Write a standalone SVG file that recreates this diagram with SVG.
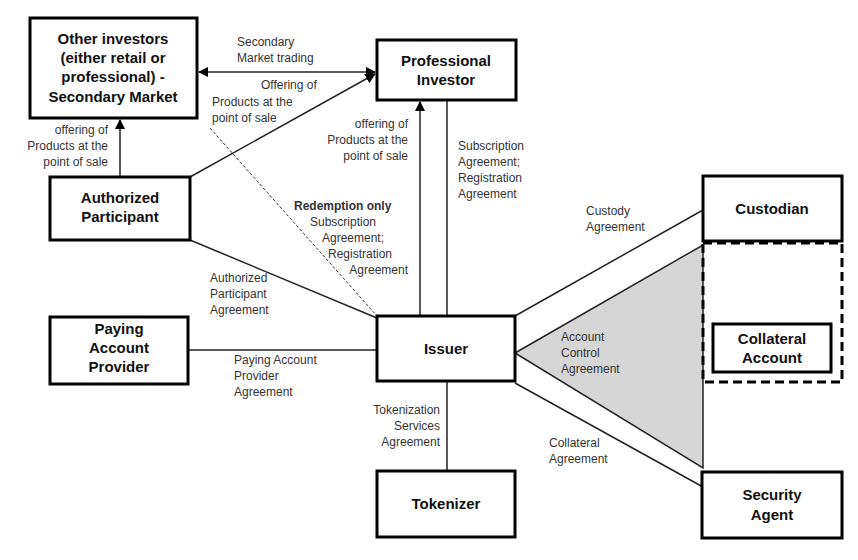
<svg xmlns="http://www.w3.org/2000/svg" width="858" height="560" viewBox="0 0 858 560">
<style>
.n{fill:#fff;stroke:#000;stroke-width:3}
.t{font-family:"Liberation Sans",Arial,sans-serif;font-weight:bold;font-size:15px;text-anchor:middle;fill:#111}
.l{font-family:"Liberation Sans",Arial,sans-serif;font-size:12px;fill:#333}
.c{stroke:#222;stroke-width:1.5;fill:none}
</style>
<defs><marker id="a" viewBox="0 0 10 10" refX="9" refY="5" markerWidth="7" markerHeight="7" orient="auto-start-reverse"><path d="M0,0L10,5L0,10z" fill="#000"/></marker></defs>
<rect width="858" height="560" fill="#fff"/>
<g id="connectors">
<polygon points="515,353 703,245 703,468" fill="#d6d6d6" stroke="#222" stroke-width="1.5"/>
<line class="c" x1="515" y1="316" x2="703" y2="210"/>
<line class="c" x1="515" y1="383" x2="703" y2="487"/>
<line class="c" x1="199" y1="72" x2="375" y2="72" marker-start="url(#a)" marker-end="url(#a)"/>
<line class="c" x1="190" y1="177" x2="375" y2="74" marker-end="url(#a)"/>
<line class="c" x1="420" y1="316" x2="420" y2="102" marker-end="url(#a)"/>
<line class="c" x1="447" y1="100" x2="447" y2="316"/>
<line x1="210" y1="128" x2="377" y2="316" stroke="#333" stroke-width="1" stroke-dasharray="3,2"/>
<line class="c" x1="190" y1="240" x2="377" y2="318"/>
<line class="c" x1="188" y1="350" x2="377" y2="350"/>
<line class="c" x1="447" y1="381" x2="447" y2="471"/>
<line class="c" x1="120" y1="177" x2="120" y2="120" marker-end="url(#a)"/>
</g>
<g id="other"><rect class="n" x="30" y="18" width="167" height="100"/><text class="t" x="113" y="44">Other investors</text><text class="t" x="113" y="63">(either retail or</text><text class="t" x="113" y="82">professional) -</text><text class="t" x="113" y="102">Secondary Market</text></g>
<g id="pi"><rect class="n" x="377" y="40" width="139" height="60"/><text class="t" x="446" y="66">Professional</text><text class="t" x="446" y="85">Investor</text></g>
<g id="ap"><rect class="n" x="50" y="177" width="140" height="63"/><text class="t" x="120" y="203">Authorized</text><text class="t" x="120" y="222">Participant</text></g>
<g id="pap"><rect class="n" x="50" y="317" width="138" height="67"/><text class="t" x="119" y="334">Paying</text><text class="t" x="119" y="353">Account</text><text class="t" x="119" y="372">Provider</text></g>
<g id="issuer"><rect class="n" x="377" y="316" width="138" height="65"/><text class="t" x="446" y="354">Issuer</text></g>
<g id="tok"><rect class="n" x="377" y="471" width="138" height="66"/><text class="t" x="446" y="509">Tokenizer</text></g>
<g id="cust"><rect class="n" x="703" y="176" width="139" height="65"/><text class="t" x="772" y="214">Custodian</text></g>
<g id="dash"><rect x="703" y="243" width="139" height="139" fill="none" stroke="#000" stroke-width="3" stroke-dasharray="9,5"/></g>
<g id="coll"><rect class="n" x="713" y="324" width="118" height="48"/><text class="t" x="772" y="344">Collateral</text><text class="t" x="772" y="363">Account</text></g>
<g id="sa"><rect class="n" x="702" y="472" width="140" height="66"/><text class="t" x="772" y="500">Security</text><text class="t" x="772" y="520">Agent</text></g>
<g id="labels">
<text class="l" x="237" y="46">Secondary</text><text class="l" x="237" y="62">Market trading</text>
<text class="l" x="261" y="89">Offering of</text><text class="l" x="212" y="106">Products at the</text><text class="l" x="212" y="122">point of sale</text>
<text class="l" x="108" y="134" text-anchor="end">offering of</text><text class="l" x="108" y="150" text-anchor="end">Products at the</text><text class="l" x="108" y="166" text-anchor="end">point of sale</text>
<text class="l" x="408" y="128" text-anchor="end">offering of</text><text class="l" x="408" y="144" text-anchor="end">Products at the</text><text class="l" x="408" y="160" text-anchor="end">point of sale</text>
<text class="l" x="458" y="150">Subscription</text><text class="l" x="458" y="166">Agreement;</text><text class="l" x="458" y="182">Registration</text><text class="l" x="458" y="198">Agreement</text>
<text class="l" x="294" y="210" font-weight="bold">Redemption only</text>
<text class="l" x="310" y="226">Subscription</text><text class="l" x="322" y="242">Agreement;</text><text class="l" x="328" y="258">Registration</text><text class="l" x="408" y="274" text-anchor="end">Agreement</text>
<text class="l" x="210" y="282">Authorized</text><text class="l" x="210" y="298">Participant</text><text class="l" x="210" y="314">Agreement</text>
<text class="l" x="234" y="364">Paying Account</text><text class="l" x="234" y="380">Provider</text><text class="l" x="234" y="396">Agreement</text>
<text class="l" x="586" y="215">Custody</text><text class="l" x="586" y="231">Agreement</text>
<text class="l" x="561" y="341">Account</text><text class="l" x="561" y="357">Control</text><text class="l" x="561" y="373">Agreement</text>
<text class="l" x="549" y="447">Collateral</text><text class="l" x="549" y="463">Agreement</text>
<text class="l" x="440" y="414" text-anchor="end">Tokenization</text><text class="l" x="440" y="430" text-anchor="end">Services</text><text class="l" x="440" y="446" text-anchor="end">Agreement</text>
</g>
</svg>
